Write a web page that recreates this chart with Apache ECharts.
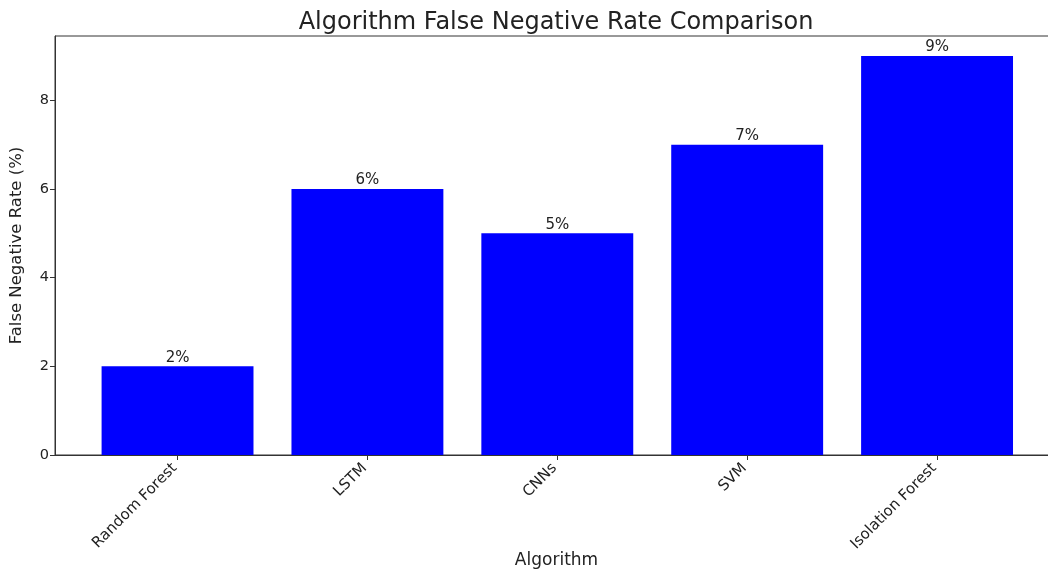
<!DOCTYPE html>
<html>
<head>
<meta charset="utf-8">
<script src="https://cdn.jsdelivr.net/npm/echarts@6/dist/echarts.min.js"></script>
<style>
  html, body { margin: 0; padding: 0; background: #fff; }
  #chart { width: 1048px; height: 571px; }
</style>
</head>
<body>
<div id="chart"></div>
<script>
// False negative rate per algorithm (%)
const algorithms = ['Random Forest', 'LSTM', 'CNNs', 'SVM', 'Isolation Forest'];
const falseNegativeRates = [2, 6, 5, 7, 9];
const yTicks = [0, 2, 4, 6, 8];

const FONT = 'DejaVu Sans';
const TEXT = '#222';
const Y_MAX = 9.45;

const chart = echarts.init(document.getElementById('chart'), null, { renderer: 'canvas' });

chart.setOption({
  animation: false,
  backgroundColor: '#fff',
  textStyle: { fontFamily: FONT },
  graphic: [{
    type: 'text',
    x: 556,
    y: 11,
    style: {
      text: 'Algorithm False Negative Rate Comparison',
      fontFamily: FONT,
      fontSize: 24,
      fill: TEXT,
      textAlign: 'center'
    }
  }],
  grid: [
    // axes frame (right edge runs past the canvas)
    { left: 55, top: 36, width: 1003, height: 419, show: true, borderColor: '#333', borderWidth: 1,
      containLabel: false, outerBoundsMode: 'none' },
    // bar area
    { left: 82.6, top: 36, width: 949.4, height: 419, containLabel: false, outerBoundsMode: 'none' }
  ],
  xAxis: [
    {
      gridIndex: 0, type: 'value', min: 0, max: 1,
      axisLine: { show: true, lineStyle: { color: '#333', width: 1 } },
      axisTick: { show: false }, axisLabel: { show: false }, splitLine: { show: false },
      name: 'Algorithm', nameLocation: 'middle', nameGap: 97,
      nameTextStyle: { fontFamily: FONT, fontSize: 17, color: TEXT }
    },
    {
      gridIndex: 1, type: 'category', data: algorithms, boundaryGap: true,
      axisLine: { show: false },
      axisTick: { show: true, alignWithLabel: true, length: 5, lineStyle: { color: '#333' } },
      axisLabel: { rotate: 45, margin: 8, padding: [0, 4, 0, 0], fontFamily: FONT, fontSize: 15, color: TEXT, interval: 0 },
      splitLine: { show: false }
    }
  ],
  yAxis: [
    {
      gridIndex: 0, type: 'value', min: 0, max: Y_MAX,
      axisLine: { show: true, lineStyle: { color: '#333', width: 1 } },
      axisTick: { show: true, length: 5, lineStyle: { color: '#333' }, customValues: yTicks },
      axisLabel: { fontFamily: FONT, fontSize: 14.5, color: TEXT, margin: 6, customValues: yTicks },
      splitLine: { show: false },
      name: 'False Negative Rate (%)', nameLocation: 'middle', nameGap: 30, nameRotate: 90,
      nameTextStyle: { fontFamily: FONT, fontSize: 16.5, color: TEXT }
    },
    {
      gridIndex: 1, type: 'value', min: 0, max: Y_MAX, show: false,
      splitLine: { show: false }
    }
  ],
  series: [{
    type: 'bar',
    xAxisIndex: 1,
    yAxisIndex: 1,
    data: falseNegativeRates,
    barWidth: '80%',
    itemStyle: { color: '#0000ff' },
    label: {
      show: true,
      position: 'top',
      distance: 1,
      formatter: p => p.value + '%',
      fontFamily: FONT,
      fontSize: 15,
      color: TEXT
    }
  }]
});
</script>
</body>
</html>
